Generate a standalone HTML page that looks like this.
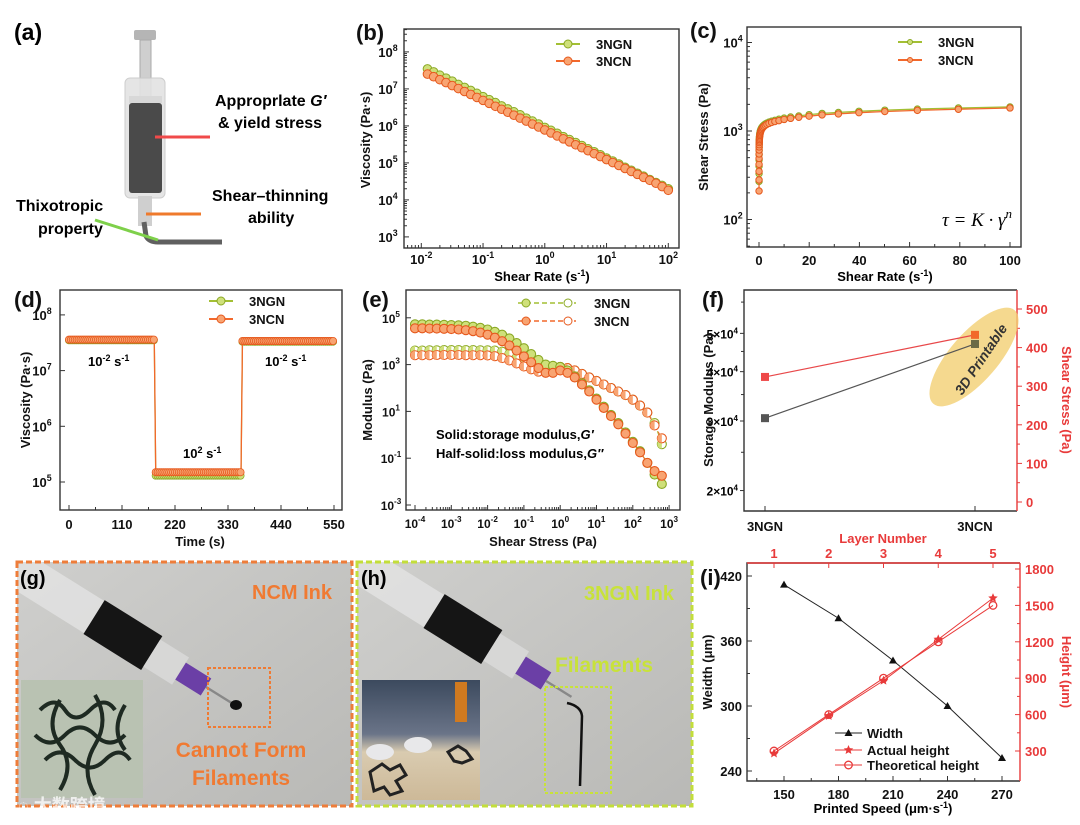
<!DOCTYPE html>
<html><head><meta charset="utf-8"><style>
html,body{margin:0;padding:0;background:#fff}
svg{display:block;font-family:"Liberation Sans Narrow","Liberation Sans","Noto Sans CJK SC",sans-serif;font-weight:bold}
</style></head><body>
<svg id="fig" width="1080" height="825" viewBox="0 0 1080 825" xmlns="http://www.w3.org/2000/svg">
<g>
<text x="14" y="40" font-size="23" font-family="Liberation Sans">(a)</text>
<rect x="134" y="30" width="22" height="10" rx="2" fill="#b5b5b5"/>
<rect x="140" y="40" width="11" height="60" fill="#cfcfcf" stroke="#aaa"/>
<rect x="125" y="78" width="40" height="120" rx="5" fill="#e3e3e3" stroke="#c8c8c8" opacity="0.9"/>
<rect x="129" y="96" width="33" height="7" fill="#d8d8d8"/>
<rect x="129" y="103" width="33" height="90" rx="3" fill="#4a4a4a"/>
<rect x="138" y="196" width="14" height="30" fill="#cfcfcf"/>
<path d="M144 222 L146 236 Q149 242 158 242 L222 242" stroke="#606060" stroke-width="5" fill="none"/>
<line x1="155" y1="137" x2="210" y2="137" stroke="#f04a4a" stroke-width="3"/>
<line x1="146" y1="214" x2="201" y2="214" stroke="#ef7a2c" stroke-width="3"/>
<line x1="95" y1="220" x2="158" y2="240" stroke="#7ed04a" stroke-width="3"/>
<text x="215" y="106" font-size="16" font-family="Liberation Sans">Approprlate <tspan font-style="italic">G′</tspan></text>
<text x="218" y="128" font-size="16" font-family="Liberation Sans">&amp; yield stress</text>
<text x="212" y="201" font-size="16" font-family="Liberation Sans">Shear–thinning</text>
<text x="248" y="223" font-size="16" font-family="Liberation Sans">ability</text>
<text x="16" y="211" font-size="16" font-family="Liberation Sans">Thixotropic</text>
<text x="38" y="234" font-size="16" font-family="Liberation Sans">property</text>
</g>

<defs>
<linearGradient id="bgg" x1="0" y1="0" x2="1" y2="1"><stop offset="0" stop-color="#cfcfcd"/><stop offset="1" stop-color="#b9b9b6"/></linearGradient>
<linearGradient id="ins2" x1="0" y1="0" x2="0" y2="1"><stop offset="0" stop-color="#3c4a5e"/><stop offset="0.45" stop-color="#6a7488"/><stop offset="0.6" stop-color="#d9cbb0"/><stop offset="1" stop-color="#cdb998"/></linearGradient>
<clipPath id="clipG"><rect x="17" y="562" width="335" height="244"/></clipPath>
<clipPath id="clipH"><rect x="357" y="562" width="335" height="244"/></clipPath>
<g id="syr">
<rect x="-40" y="-19" width="125" height="38" fill="#e4e4e4" opacity="0.75"/>
<rect x="85" y="-20" width="68" height="40" fill="#151515"/>
<rect x="153" y="-16" width="34" height="32" fill="#d9d9d9" opacity="0.85"/>
<rect x="187" y="-10" width="30" height="20" fill="#6b3fa6"/>
<rect x="217" y="-1.2" width="30" height="2.4" fill="#888"/>
</g>
</defs>
<g>
<g clip-path="url(#clipG)">
<rect x="17" y="562" width="335" height="244" fill="url(#bgg)"/>
<use href="#syr" transform="translate(22,572) rotate(32)"/>
<ellipse cx="236" cy="705" rx="6" ry="5" fill="#111"/>
<rect x="208" y="668" width="62" height="59" fill="none" stroke="#f07a32" stroke-width="2" stroke-dasharray="3 2"/>
<rect x="21" y="680" width="122" height="118" fill="#b9c2b2"/>
<path d="M40 710 q15 -15 25 0 t25 0 t25 0 M35 735 q15 15 30 0 t30 0 t30 0 M45 760 q15 -15 30 0 t30 0 t25 0 M60 700 q-15 25 0 45 t0 45 M95 695 q15 25 0 50 t0 50 M125 705 q-15 25 0 45" stroke="#1e2a22" stroke-width="4" fill="none"/>
</g>
<rect x="17" y="562" width="335" height="244" fill="none" stroke="#ee7d3a" stroke-width="3" stroke-dasharray="6 3"/>
<text x="20" y="585" font-size="20" fill="#000" font-family="Liberation Sans">(g)</text>
<text x="292" y="599" font-size="20" fill="#f07a32" text-anchor="middle">NCM Ink</text>
<text x="241" y="757" font-size="21" fill="#f07a32" text-anchor="middle">Cannot Form</text>
<text x="241" y="785" font-size="21" fill="#f07a32" text-anchor="middle">Filaments</text>
<text x="18" y="812" font-size="18" fill="#fff" opacity="0.75">◌ 大数跨境</text>
</g>
<g>
<g clip-path="url(#clipH)">
<rect x="357" y="562" width="335" height="244" fill="url(#bgg)"/>
<use href="#syr" transform="translate(362,566) rotate(32)"/>
<path d="M567 703 Q581 706 582 716 L580 786" stroke="#111" stroke-width="2.5" fill="none"/>
<rect x="545" y="687" width="66" height="106" fill="none" stroke="#c8e23a" stroke-width="2" stroke-dasharray="3 2"/>
<rect x="362" y="680" width="118" height="120" fill="url(#ins2)"/>
<rect x="455" y="682" width="12" height="40" fill="#d07a20"/>
<ellipse cx="380" cy="752" rx="14" ry="8" fill="#e8e8ea"/>
<ellipse cx="418" cy="745" rx="14" ry="8" fill="#e8e8ea"/>
<path d="M370 772 l12 -8 l8 6 l10 -5 l6 10 l-10 6 l6 10 l-12 4 l-6 -8 l-10 4 Z M448 752 l10 -6 l8 5 l6 8 l-10 4 l-8 -2 Z" stroke="#222" stroke-width="3" fill="none"/>
</g>
<rect x="357" y="562" width="335" height="244" fill="none" stroke="#c3de3a" stroke-width="3" stroke-dasharray="6 3"/>
<text x="361" y="585" font-size="20" fill="#000" font-family="Liberation Sans">(h)</text>
<text x="629" y="600" font-size="20" fill="#c8e23a" text-anchor="middle">3NGN Ink</text>
<text x="604" y="672" font-size="21" fill="#c8e23a" text-anchor="middle">Filaments</text>
</g>
<g id="charts"></g>
</svg>
<script>
// (b) viscosity vs shear rate (log10 values)
const bLogRate=[-1.9,-1.8,-1.7,-1.6,-1.5,-1.4,-1.3,-1.2,-1.1,-1.0,-0.9,-0.8,-0.7,-0.6,-0.5,-0.4,-0.3,-0.2,-0.1,0.0,0.1,0.2,0.3,0.4,0.5,0.6,0.7,0.8,0.9,1.0,1.1,1.2,1.3,1.4,1.5,1.6,1.7,1.8,1.9,2.0];
const bLogViscNGN=[7.54,7.46,7.37,7.29,7.21,7.12,7.04,6.96,6.88,6.79,6.71,6.63,6.54,6.46,6.38,6.30,6.21,6.13,6.05,5.96,5.88,5.80,5.71,5.63,5.55,5.47,5.38,5.30,5.22,5.13,5.05,4.97,4.88,4.80,4.72,4.64,4.55,4.47,4.39,4.30];
const bLogViscNCN=[7.40,7.33,7.25,7.17,7.09,7.01,6.93,6.85,6.77,6.69,6.61,6.53,6.45,6.37,6.29,6.21,6.13,6.05,5.97,5.89,5.81,5.73,5.65,5.57,5.49,5.41,5.33,5.25,5.17,5.09,5.01,4.93,4.85,4.77,4.69,4.61,4.53,4.45,4.36,4.26];
// (c) shear stress vs shear rate
const cStressNGN=[270,330,400,470,540,600,650,700,740,780,810,840,870,900,930,960,990,1020,1050,1080,1110,1140,1170,1200,1230,1260,1290,1320,1360,1400,1440,1480,1530,1580,1620,1670,1720,1770,1820,1870];
const cStressNCN=[210,280,350,420,490,550,610,660,700,740,770,800,830,860,890,920,950,980,1010,1040,1070,1100,1130,1160,1190,1220,1250,1280,1310,1350,1390,1430,1470,1520,1560,1610,1660,1710,1760,1820];
// (d) step viscosity
const dSegStart=[0,180,360];
const dSegEnd=[177,357,548];
const dLevelNCN=[3.6e7,1.5e5,3.4e7];
const dLevelNGN=[3.5e7,1.3e5,3.3e7];
// (e) modulus vs shear stress (log10)
const eLogStress=[-4,-3.8,-3.6,-3.4,-3.2,-3,-2.8,-2.6,-2.4,-2.2,-2,-1.8,-1.6,-1.4,-1.2,-1,-0.8,-0.6,-0.4,-0.2,0,0.2,0.4,0.6,0.8,1,1.2,1.4,1.6,1.8,2,2.2,2.4,2.6,2.8];
const eLogGpNGN=[4.72,4.72,4.71,4.71,4.70,4.69,4.68,4.66,4.62,4.57,4.50,4.40,4.28,4.12,3.92,3.70,3.45,3.20,3.00,2.95,2.90,2.75,2.50,2.20,1.90,1.55,1.20,0.85,0.50,0.10,-0.30,-0.70,-1.20,-1.70,-2.10];
const eLogGpNCN=[4.55,4.55,4.54,4.54,4.53,4.52,4.50,4.47,4.43,4.37,4.28,4.15,4.00,3.82,3.60,3.35,3.10,2.85,2.65,2.65,2.75,2.65,2.45,2.15,1.85,1.50,1.15,0.80,0.45,0.05,-0.35,-0.75,-1.20,-1.55,-1.75];
const eLogGppNGN=[3.60,3.60,3.61,3.61,3.62,3.62,3.62,3.62,3.62,3.61,3.61,3.60,3.55,3.45,3.30,3.15,3.00,2.85,2.80,2.85,2.90,2.85,2.75,2.60,2.45,2.30,2.15,2.00,1.85,1.70,1.50,1.25,0.95,0.50,-0.40];
const eLogGppNCN=[3.40,3.40,3.40,3.41,3.41,3.41,3.41,3.40,3.40,3.40,3.39,3.36,3.28,3.18,3.05,2.92,2.80,2.70,2.72,2.82,2.90,2.85,2.75,2.60,2.45,2.30,2.15,2.00,1.85,1.70,1.50,1.25,0.95,0.40,-0.15];
// (f)
const fCats=["3NGN","3NCN"];
const fStorage=[3.05e4,4.7e4];
const fShearStress=[324,433];
// (i)
const iSpeed=[150,180,210,240,270];
const iWidth=[412,381,342,300,252];
const iLayers=[1,2,3,4,5];
const iActual=[280,590,880,1220,1560];
const iTheory=[300,600,900,1200,1500];

const NS='http://www.w3.org/2000/svg';
const root=document.getElementById('charts');
function mk(tag,attrs,parent){const e=document.createElementNS(NS,tag);for(const k in attrs)e.setAttribute(k,attrs[k]);(parent||root).appendChild(e);return e;}
function tx(x,y,s,size,anchor,fill,parent){const e=mk('text',{x:x,y:y,'font-size':size,'text-anchor':anchor||'start',fill:fill||'#111'},parent);e.textContent=s;return e;}
function pw(x,y,base,exp,size,anchor,parent){const e=mk('text',{x:x,y:y,'font-size':size,'text-anchor':anchor||'middle',fill:'#111'},parent);e.appendChild(document.createTextNode(base));const t=mk('tspan',{dy:-6,'font-size':size*0.68},e);t.textContent=exp;return e;}
function frame(x0,y0,x1,y1,parent){return mk('rect',{x:x0,y:y0,width:x1-x0,height:y1-y0,fill:'none',stroke:'#333','stroke-width':1.4},parent);}
const GR={line:'#a3bf34',fill:'#cfe07a',stroke:'#8aa824'};
const OR={line:'#f2682c',fill:'#f8a472',stroke:'#e6581c'};
function vtitle(x,y,s,size,fill,parent){const e=mk('text',{x:0,y:0,'font-size':size,'text-anchor':'middle',fill:fill||'#111',transform:`translate(${x},${y}) rotate(-90)`},parent);e.textContent=s;return e;}

// PANEL B
const gB=mk('g',{});


const xb=l=>404+(l+2.28)*61.75, yb=l=>248-(l-2.7)*37;
let t=tx(356,40,'(b)',22,'start','#111',gB);


frame(404,29,679,248,gB);
for(let d=3;d<=8;d++){const y=yb(d);mk('line',{x1:404,y1:y,x2:409,y2:y,stroke:'#333'},gB);
 t=pw(388,y+5,'10',d,13,'middle',gB);
 
 
 for(let m=2;m<10;m++){const ym=yb(d+Math.log10(m));if(ym>29)mk('line',{x1:404,y1:ym,x2:407,y2:ym,stroke:'#333'},gB);}}
for(let d=-2;d<=2;d++){const x=xb(d);mk('line',{x1:x,y1:248,x2:x,y2:243,stroke:'#333'},gB);
 t=pw(x,264,'10',d,13,'middle',gB);
 
 
 for(let m=2;m<10;m++){const xm=xb(d+Math.log10(m));if(xm<679)mk('line',{x1:xm,y1:248,x2:xm,y2:245,stroke:'#333'},gB);}
 for(let m=2;m<10;m++){const xm=xb(d-1+Math.log10(m));if(xm>404&&d==-2)mk('line',{x1:xm,y1:248,x2:xm,y2:245,stroke:'#333'},gB);}}
t=vtitle(370,140,'Viscosity (Pa·s)',13,'#111',gB);


t=mk('text',{x:542,y:281,'font-size':13,'text-anchor':'middle'},gB);t.innerHTML='Shear Rate (s<tspan dy="-5" font-size="9">-1</tspan><tspan dy="5">)</tspan>';


function series(xs,ys,c,r,g,name){const p=mk('polyline',{points:xs.map((x,i)=>x+','+ys[i]).join(' '),fill:'none',stroke:c.line,'stroke-width':1.3},g);
 
 
 xs.forEach((x,i)=>{const m=mk('circle',{cx:x,cy:ys[i],r:r,fill:c.fill,stroke:c.stroke,'stroke-width':1},g);
 
 });}
series(bLogRate.map(xb),bLogViscNGN.map(yb),GR,4.3,gB,'b-3ngn');
series(bLogRate.map(xb),bLogViscNCN.map(yb),OR,4.3,gB,'b-3ncn');
function legend(x,y,c,label,g,r){mk('line',{x1:x,y1:y,x2:x+24,y2:y,stroke:c.line,'stroke-width':2},g);const m=mk('circle',{cx:x+12,cy:y,r:r||4,fill:c.fill,stroke:c.stroke},g);
 
 
 const l=tx(x+40,y+5,label,13,'start','#111',g);
 
 }
legend(556,44,GR,'3NGN',gB);legend(556,61,OR,'3NCN',gB);

// PANEL C
const gC=mk('g',{});


const xc=v=>759+v*2.51, yc=l=>131-(l-3)*88.5;
t=tx(690,38,'(c)',22,'start','#111',gC);


frame(747,27,1021,247,gC);
for(let d=2;d<=4;d++){const y=yc(d);mk('line',{x1:747,y1:y,x2:752,y2:y,stroke:'#333'},gC);
 t=pw(733,y+5,'10',d,13,'middle',gC);
 
 
 for(let m=2;m<10;m++){const ym=yc(d+Math.log10(m));if(ym>27&&ym<247)mk('line',{x1:747,y1:ym,x2:750,y2:ym,stroke:'#333'},gC);}
 for(let m=5;m<10;m++){const ym=yc(1+Math.log10(m));if(ym<247&&d==2)mk('line',{x1:747,y1:ym,x2:750,y2:ym,stroke:'#333'},gC);}}
for(let v=0;v<=100;v+=10){const x=xc(v);mk('line',{x1:x,y1:247,x2:x,y2:v%20?244:242,stroke:'#333'},gC);
 if(v%20==0){t=tx(x,265,String(v),13,'middle','#111',gC);
 
 }}
t=vtitle(708,137,'Shear Stress (Pa)',13,'#111',gC);


t=mk('text',{x:885,y:281,'font-size':13,'text-anchor':'middle'},gC);t.innerHTML='Shear Rate (s<tspan dy="-5" font-size="9">-1</tspan><tspan dy="5">)</tspan>';


const cx=bLogRate.map(l=>xc(Math.pow(10,l)));
series(cx,cStressNGN.map(v=>yc(Math.log10(v))),GR,3.2,gC,'c-3ngn');
series(cx,cStressNCN.map(v=>yc(Math.log10(v))),OR,3.2,gC,'c-3ncn');
legend(898,42,GR,'3NGN',gC,2.5);legend(898,60,OR,'3NCN',gC,2.5);
t=mk('text',{x:1012,y:226,'font-size':19,'text-anchor':'end','font-family':'Liberation Serif','font-style':'italic','font-weight':'normal'},gC);t.innerHTML='τ = K · γ<tspan dy="-8" font-size="13">n</tspan>';



// PANEL D
const gD=mk('g',{});


const xd=v=>69+v*(265/550), yd=l=>482-(l-5)*55.7;
t=tx(14,307,'(d)',22,'start','#111',gD);


frame(60,290,342,510,gD);
for(let d=5;d<=8;d++){const y=yd(d);mk('line',{x1:60,y1:y,x2:65,y2:y,stroke:'#333'},gD);
 t=pw(42,y+5,'10',d,13,'middle',gD);
 
 }
for(let v=0;v<=550;v+=55){const x=xd(v);mk('line',{x1:x,y1:510,x2:x,y2:v%110?507:505,stroke:'#333'},gD);
 if(v%110==0){t=tx(x,529,String(v),13,'middle','#111',gD);
 
 }}
t=vtitle(30,400,'Viscosity (Pa·s)',13,'#111',gD);


t=tx(200,546,'Time (s)',13,'middle','#111',gD);


function stepSeries(levels,c,name){const pts=[];const marks=[];
 for(let s=0;s<dSegStart.length;s++){pts.push([dSegStart[s],levels[s]],[dSegEnd[s],levels[s]]);
 for(let tt=dSegStart[s];tt<=dSegEnd[s];tt+=4)marks.push([tt,levels[s]]);}
 const p=mk('polyline',{points:pts.map(q=>xd(q[0])+','+yd(Math.log10(q[1]))).join(' '),fill:'none',stroke:c.line,'stroke-width':1.3},gD);
 
 
 marks.forEach(q=>{const m=mk('circle',{cx:xd(q[0]),cy:yd(Math.log10(q[1])),r:3.6,fill:c.fill,stroke:c.stroke,'stroke-width':0.8},gD);
 
 });}
stepSeries(dLevelNGN,GR,'d-3ngn');stepSeries(dLevelNCN,OR,'d-3ncn');
legend(209,301,GR,'3NGN',gD);legend(209,319,OR,'3NCN',gD);
[[88,366,'-2'],[183,458,'2'],[265,366,'-2']].forEach(a=>{const e=mk('text',{x:a[0],y:a[1],'font-size':13},gD);e.innerHTML='10<tspan dy="-5" font-size="9">'+a[2]+'</tspan><tspan dy="5"> s</tspan><tspan dy="-5" font-size="9">-1</tspan>';
 
 });

// PANEL E
const gE=mk('g',{});


const xe=l=>415+(l+4)*36.3, ye=l=>505-(l+3)*23.4;
t=tx(362,307,'(e)',22,'start','#111',gE);


frame(406,290,680,510,gE);
for(let d=-3;d<=5;d+=2){const y=ye(d);mk('line',{x1:406,y1:y,x2:411,y2:y,stroke:'#333'},gE);
 t=pw(391,y+5,'10',d,12,'middle',gE);
 
 }
for(let d=-4;d<=3;d++){const x=xe(d);mk('line',{x1:x,y1:510,x2:x,y2:505,stroke:'#333'},gE);
 t=pw(x,528,'10',d,12,'middle',gE);
 
 
 for(let m=2;m<10;m++){const xm=xe(d+Math.log10(m));if(xm<680)mk('line',{x1:xm,y1:510,x2:xm,y2:507,stroke:'#333'},gE);}}
t=vtitle(372,400,'Modulus (Pa)',13,'#111',gE);


t=tx(543,546,'Shear Stress (Pa)',13,'middle','#111',gE);


function eSeries(ys,c,half,name){const xs=eLogStress.map(xe);const yy=ys.map(ye);
 const p=mk('polyline',{points:xs.map((x,i)=>x+','+yy[i]).join(' '),fill:'none',stroke:c.line,'stroke-width':1,'stroke-dasharray':half?'4 2':'none'},gE);
 
 
 xs.forEach((x,i)=>{const y=yy[i],r=4.5;
 const m=mk('circle',{cx:x,cy:y,r:r,fill:half?'#fff':c.fill,stroke:c.stroke,'stroke-width':1.1},gE);
 
 
 if(half){const h=mk('path',{d:`M${x},${y-r} A${r},${r} 0 0 0 ${x},${y+r} Z`,fill:c.fill},gE);
 
 }});}
eSeries(eLogGppNGN,GR,true,'e-3ngn-loss');eSeries(eLogGppNCN,OR,true,'e-3ncn-loss');
eSeries(eLogGpNGN,GR,false,'e-3ngn-storage');eSeries(eLogGpNCN,OR,false,'e-3ncn-storage');
[[303,GR,'3NGN'],[321,OR,'3NCN']].forEach(a=>{const y=a[0],c=a[1];
 mk('line',{x1:518,y1:y,x2:576,y2:y,stroke:c.line,'stroke-width':1.5,'stroke-dasharray':'5 3'},gE);
 const m1=mk('circle',{cx:526,cy:y,r:4,fill:c.fill,stroke:c.stroke},gE);
 
 
 const m2=mk('circle',{cx:568,cy:y,r:4,fill:'#fff',stroke:c.stroke},gE);
 
 
 const l=tx(594,y+5,a[2],13,'start','#111',gE);
 
 });
t=mk('text',{x:436,y:439,'font-size':13},gE);t.innerHTML='Solid:storage modulus,<tspan font-style="italic">G′</tspan>';


t=mk('text',{x:436,y:458,'font-size':13},gE);t.innerHTML='Half-solid:loss modulus,<tspan font-style="italic">G″</tspan>';



// PANEL F
const gF=mk('g',{});


const xf=i=>765+i*210, yfL=v=>421-(Math.log10(v)-Math.log10(3e4))*395, yfR=v=>502-v*0.386;
t=tx(702,307,'(f)',22,'start','#111',gF);


mk('path',{d:'M1017 290 L744 290 L744 511 L1017 511',fill:'none',stroke:'#333','stroke-width':1.4},gF);
mk('line',{x1:1017,y1:290,x2:1017,y2:511,stroke:'#e83a3a','stroke-width':1.4},gF);
[[2e4,'2'],[3e4,'3'],[4e4,'4'],[5e4,'5']].forEach(a=>{const y=yfL(a[0]);mk('line',{x1:744,y1:y,x2:740,y2:y,stroke:'#333'},gF);
 const e=mk('text',{x:738,y:y+5,'font-size':12,'text-anchor':'end'},gF);e.innerHTML=a[1]+'×10<tspan dy="-5" font-size="8">4</tspan>';
 
 });
[2.5e4,3.5e4,4.5e4,6e4].forEach(v=>{const y=yfL(v);if(y>290)mk('line',{x1:744,y1:y,x2:741,y2:y,stroke:'#333'},gF);});
for(let v=0;v<=500;v+=50){const y=yfR(v);mk('line',{x1:1017,y1:y,x2:v%100?1020:1022,y2:y,stroke:'#e83a3a'},gF);
 if(v%100==0){t=tx(1026,y+5,String(v),13,'start','#e83a3a',gF);
 
 }}
fCats.forEach((c,i)=>{mk('line',{x1:xf(i),y1:511,x2:xf(i),y2:506,stroke:'#333'},gF);
 t=tx(xf(i),531,c,13,'middle','#111',gF);
 
 });
t=vtitle(713,400,'Storage Modulus (Pa)',13,'#111',gF);


t=mk('text',{x:0,y:0,'font-size':13,'text-anchor':'middle',fill:'#e83a3a',transform:'translate(1062,400) rotate(90)'},gF);t.textContent='Shear Stress (Pa)';


t=mk('ellipse',{cx:0,cy:0,rx:62,ry:24,fill:'#f2cf73',opacity:0.8,transform:'translate(974,357) rotate(-49)'},gF);


t=mk('text',{x:0,y:0,'font-size':14,'text-anchor':'middle',fill:'#333','font-style':'italic',transform:'translate(985,362) rotate(-56)'},gF);t.textContent='3D Printable';


let pl=mk('polyline',{points:fStorage.map((v,i)=>xf(i)+','+yfL(v)).join(' '),fill:'none',stroke:'#555','stroke-width':1.2},gF);


pl=mk('polyline',{points:fShearStress.map((v,i)=>xf(i)+','+yfR(v)).join(' '),fill:'none',stroke:'#e8484a','stroke-width':1.2},gF);


fStorage.forEach((v,i)=>{const m=mk('rect',{x:xf(i)-4,y:yfL(v)-4,width:8,height:8,fill:i?'#6b6b45':'#555'},gF);
 
 });
fShearStress.forEach((v,i)=>{const m=mk('rect',{x:xf(i)-4,y:yfR(v)-4,width:8,height:8,fill:i?'#f26a2a':'#ee4848'},gF);
 
 });

// PANEL I
const gI=mk('g',{});


const xi=s=>784+(s-150)*(218/120), yiL=w=>771-(w-240)*(195/180), xl=n=>774+(n-1)*54.75, yiR=h=>751-(h-300)*(182/1500);
t=tx(700,585,'(i)',22,'start','#111',gI);


mk('path',{d:'M1020 563 L747 563 L747 781 L1020 781',fill:'none',stroke:'#333','stroke-width':1.4},gI);
mk('line',{x1:1020,y1:563,x2:1020,y2:781,stroke:'#e83a3a','stroke-width':1.4},gI);
mk('line',{x1:747,y1:563,x2:1020,y2:563,stroke:'#e83a3a','stroke-width':1.4},gI);
for(let w=240;w<=420;w+=30){const y=yiL(w);mk('line',{x1:747,y1:y,x2:w%60?750:752,y2:y,stroke:'#333'},gI);
 if(w%60==0){t=tx(742,y+5,String(w),13,'end','#111',gI);
 
 }}
for(let h=300;h<=1800;h+=150){const y=yiR(h);mk('line',{x1:1020,y1:y,x2:h%300?1017:1015,y2:y,stroke:'#e83a3a'},gI);
 if(h%300==0){t=tx(1025,y+5,String(h),13,'start','#e83a3a',gI);
 
 }}
for(let s=135;s<=270;s+=15){const x=xi(s);mk('line',{x1:x,y1:781,x2:x,y2:s%30?778:776,stroke:'#333'},gI);
 if(s%30==0){t=tx(x,799,String(s),13,'middle','#111',gI);
 
 }}
iLayers.forEach(n=>{const x=xl(n);mk('line',{x1:x,y1:563,x2:x,y2:568,stroke:'#e83a3a'},gI);
 t=tx(x,558,String(n),13,'middle','#e83a3a',gI);
 
 });
t=tx(883,543,'Layer Number',13,'middle','#e83a3a',gI);


t=vtitle(712,672,'Weidth (μm)',13,'#111',gI);


t=mk('text',{x:0,y:0,'font-size':13,'text-anchor':'middle',fill:'#e83a3a',transform:'translate(1062,672) rotate(90)'},gI);t.textContent='Height (μm)';


t=mk('text',{x:883,y:813,'font-size':13,'text-anchor':'middle'},gI);t.innerHTML='Printed Speed (μm·s<tspan dy="-5" font-size="9">-1</tspan><tspan dy="5">)</tspan>';


pl=mk('polyline',{points:iSpeed.map((s,i)=>xi(s)+','+yiL(iWidth[i])).join(' '),fill:'none',stroke:'#222','stroke-width':1},gI);


iSpeed.forEach((s,i)=>{const x=xi(s),y=yiL(iWidth[i]);const m=mk('path',{d:`M${x},${y-4} L${x+4},${y+3} L${x-4},${y+3} Z`,fill:'#111'},gI);
 
 });
pl=mk('polyline',{points:iLayers.map((n,i)=>xl(n)+','+yiR(iActual[i])).join(' '),fill:'none',stroke:'#e83a3a','stroke-width':1},gI);


pl=mk('polyline',{points:iLayers.map((n,i)=>xl(n)+','+yiR(iTheory[i])).join(' '),fill:'none',stroke:'#e83a3a','stroke-width':1},gI);


function star(x,y,r){let d='';for(let k=0;k<10;k++){const a=-Math.PI/2+k*Math.PI/5,rr=k%2?r*0.45:r;d+=(k?'L':'M')+(x+rr*Math.cos(a))+','+(y+rr*Math.sin(a));}return d+'Z';}
iLayers.forEach((n,i)=>{const m=mk('path',{d:star(xl(n),yiR(iActual[i]),5),fill:'#e83a3a'},gI);
 
 });
iLayers.forEach((n,i)=>{const m=mk('circle',{cx:xl(n),cy:yiR(iTheory[i]),r:3.8,fill:'none',stroke:'#e83a3a','stroke-width':1.3},gI);
 
 });
mk('line',{x1:835,y1:733,x2:862,y2:733,stroke:'#222'},gI);mk('path',{d:'M848.5,729 L852.5,736 L844.5,736 Z',fill:'#111'},gI);
mk('line',{x1:835,y1:750,x2:862,y2:750,stroke:'#e83a3a'},gI);mk('path',{d:star(848.5,750,5),fill:'#e83a3a'},gI);
mk('line',{x1:835,y1:765,x2:862,y2:765,stroke:'#e83a3a'},gI);mk('circle',{cx:848.5,cy:765,r:3.8,fill:'none',stroke:'#e83a3a','stroke-width':1.3},gI);
[['Width',738,'#111'],['Actual height',755,'#111'],['Theoretical height',770,'#111']].forEach(a=>{const l=tx(867,a[1],a[0],13,'start',a[2],gI);
 
 });
</script>
</body></html>
